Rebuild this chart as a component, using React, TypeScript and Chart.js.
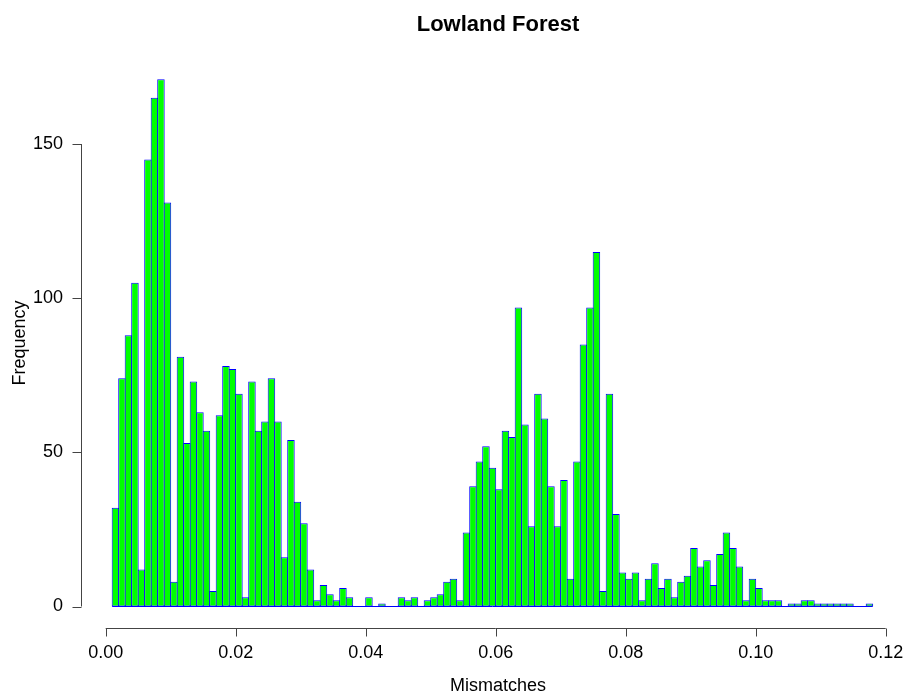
import React, { useEffect, useRef } from "react";
import { Chart, registerables } from "chart.js";

Chart.register(...registerables);

const title = "Lowland Forest";
const xLabel = "Mismatches";
const yLabel = "Frequency";
const binStart = 0.001;
const binWidth = 0.001;
const counts = [
  32, 74, 88, 105, 12, 145, 165, 171, 131, 8,
  81, 53, 73, 63, 57, 5, 62, 78, 77, 69,
  3, 73, 57, 60, 74, 60, 16, 54, 34, 27,
  12, 2, 7, 4, 2, 6, 3, 0, 0, 3,
  0, 1, 0, 0, 3, 2, 3, 0, 2, 3,
  4, 8, 9, 2, 24, 39, 47, 52, 45, 38,
  57, 55, 97, 59, 26, 69, 61, 39, 26, 41,
  9, 47, 85, 97, 115, 5, 69, 30, 11, 9,
  11, 2, 9, 14, 6, 9, 3, 8, 10, 19,
  13, 15, 7, 17, 24, 19, 13, 2, 9, 6,
  2, 2, 2, 0, 1, 1, 2, 2, 1, 1,
  1, 1, 1, 1, 0, 0, 1,
];
const xTicks = [0, 0.02, 0.04, 0.06, 0.08, 0.1, 0.12];
const xTickLabels = ["0.00", "0.02", "0.04", "0.06", "0.08", "0.10", "0.12"];
const yTicks = [0, 50, 100, 150];
const yTickLabels = ["0", "50", "100", "150"];

const FONT = "'Liberation Sans', Arial, Helvetica, sans-serif";

const rAxesPlugin = {
  id: "rAxes",
  afterDatasetsDraw(chart: any) {
    const ctx = chart.ctx;
    const xs = chart.scales.x;
    const ys = chart.scales.y;
    const area = chart.chartArea;
    ctx.save();
    // blue baseline of histogram (zero-height bins)
    const y0 = ys.getPixelForValue(0);
    ctx.strokeStyle = "#0000ff";
    ctx.lineWidth = 1;
    ctx.beginPath();
    ctx.moveTo(xs.getPixelForValue(binStart), y0);
    ctx.lineTo(xs.getPixelForValue(binStart + counts.length * binWidth), y0);
    ctx.stroke();
    ctx.restore();
  },
  afterDraw(chart: any) {
    const ctx = chart.ctx;
    const xs = chart.scales.x;
    const ys = chart.scales.y;
    const area = chart.chartArea;
    ctx.save();
    ctx.strokeStyle = "#444";
    ctx.lineWidth = 1;
    // x axis
    const axY = Math.round(area.bottom) + 0.5;
    ctx.beginPath();
    ctx.moveTo(xs.getPixelForValue(xTicks[0]), axY);
    ctx.lineTo(xs.getPixelForValue(xTicks[xTicks.length - 1]), axY);
    xTicks.forEach((v) => {
      const px = Math.round(xs.getPixelForValue(v)) + 0.5;
      ctx.moveTo(px, axY);
      ctx.lineTo(px, axY + 8);
    });
    ctx.stroke();
    ctx.fillStyle = "#000";
    ctx.font = `18px ${FONT}`;
    ctx.textAlign = "center";
    ctx.textBaseline = "middle";
    xTicks.forEach((v, i) => {
      ctx.fillText(xTickLabels[i], xs.getPixelForValue(v), 653);
    });
    // y axis
    const axX = Math.round(area.left) - 0.5;
    ctx.beginPath();
    ctx.moveTo(axX, ys.getPixelForValue(yTicks[0]));
    ctx.lineTo(axX, ys.getPixelForValue(yTicks[yTicks.length - 1]));
    yTicks.forEach((v) => {
      const py = Math.round(ys.getPixelForValue(v)) + 0.5;
      ctx.moveTo(axX, py);
      ctx.lineTo(axX - 9, py);
    });
    ctx.stroke();
    ctx.textAlign = "right";
    yTicks.forEach((v, i) => {
      ctx.fillText(yTickLabels[i], 63, ys.getPixelForValue(v));
    });
    // axis titles
    ctx.textAlign = "center";
    ctx.fillText(xLabel, 498, 686);
    ctx.save();
    ctx.translate(25, (area.top + area.bottom) / 2);
    ctx.rotate(-Math.PI / 2);
    ctx.textBaseline = "alphabetic";
    ctx.fillText(yLabel, 0, 0);
    ctx.restore();
    // main title
    ctx.font = `bold 22px ${FONT}`;
    ctx.textBaseline = "alphabetic";
    ctx.fillText(title, 498, 30.5);
    ctx.restore();
  },
};

export default function App() {
  const ref = useRef<HTMLCanvasElement | null>(null);
  useEffect(() => {
    if (!ref.current) return;
    const data = counts.map((c, i) => ({ x: binStart + (i + 0.5) * binWidth, y: c }));
    const chart = new Chart(ref.current, {
      type: "bar",
      data: {
        datasets: [
          {
            data,
            backgroundColor: "#00ff00",
            borderColor: "#0000ff",
            borderWidth: 1,
            borderSkipped: false,
            barPercentage: 1 + 1 / 6.5,
            categoryPercentage: 1,
          } as any,
        ],
      },
      options: {
        animation: false,
        responsive: false,
        maintainAspectRatio: false,
        layout: { padding: { left: 81.65, right: 4.75, top: 58.2, bottom: 68.4 } },
        plugins: { legend: { display: false }, title: { display: false }, tooltip: { enabled: false } },
        scales: {
          x: { type: "linear", min: -0.0037, max: 0.1227, display: false, offset: false },
          y: { type: "linear", min: -6.84, max: 177.84, display: false },
        },
      },
      plugins: [rAxesPlugin],
    });
    return () => chart.destroy();
  }, []);
  return (
    <div style={{ position: "absolute", left: 0, top: 0, width: 908, height: 696, background: "#fff" }}>
      <canvas ref={ref} width={908} height={696} style={{ width: 908, height: 696 }} />
    </div>
  );
}
